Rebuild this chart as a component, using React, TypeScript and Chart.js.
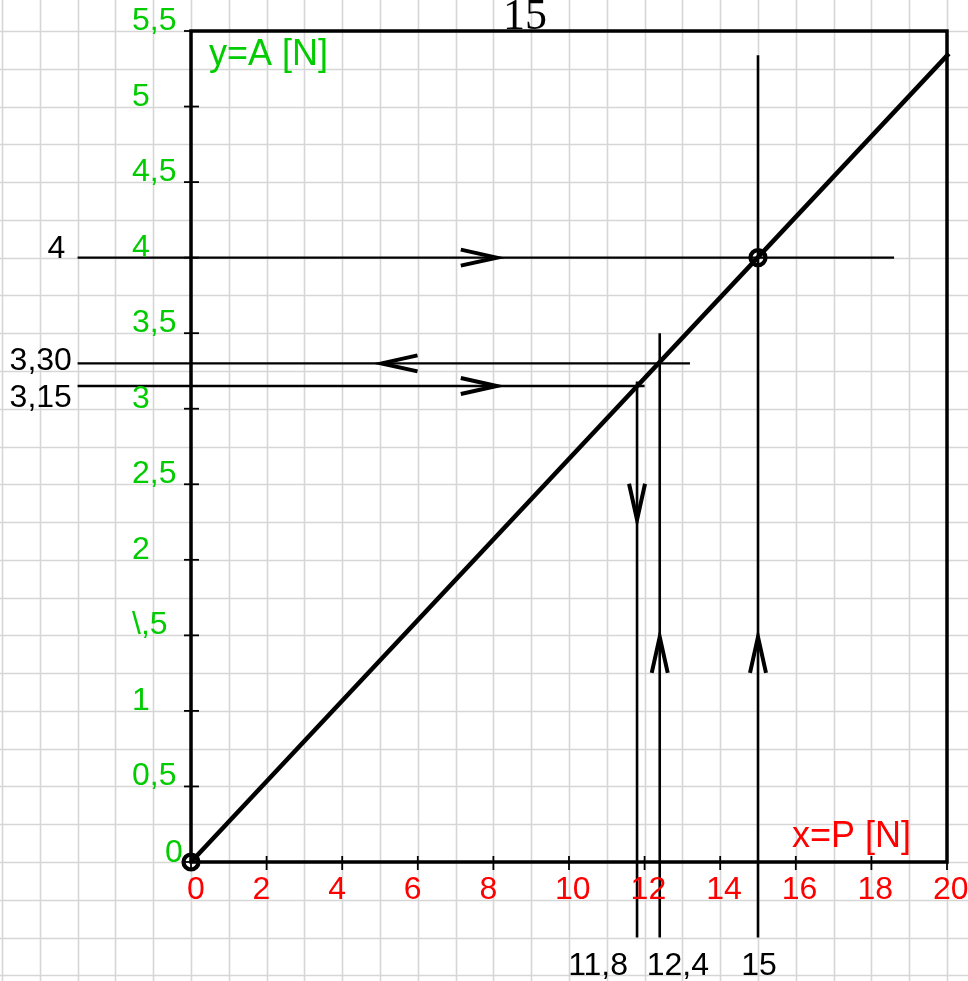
import React, { useEffect, useRef } from "react";
import { Chart, registerables } from "chart.js";

Chart.register(...registerables);

// ---- data ----
const titleText = "15";
const xAxisTitle = "x=P [N]";
const yAxisTitle = "y=A [N]";

const xTicks = [0, 2, 4, 6, 8, 10, 12, 14, 16, 18, 20];
const xTickLabels = ["0", "2", "4", "6", "8", "10", "12", "14", "16", "18", "20"];
const yTicks = [0, 0.5, 1, 1.5, 2, 2.5, 3, 3.5, 4, 4.5, 5, 5.5];
const yTickLabels = ["0", "0,5", "1", "\\,5", "2", "2,5", "3", "3,5", "4", "4,5", "5", "5,5"];

// characteristic line A = f(P)
const lineX = [0, 20.05];
const lineY = [0, 5.35];

// marked points
const markerX = [0, 15];
const markerY = [0, 4];

// horizontal reading lines
const hLevels = [4, 3.3, 3.15];
const hStart = [-3, -3, -3];
const hEnd = [18.6, 13.2, 12.0];

// vertical reading lines
const vLevels = [15, 12.4, 11.8];
const vTop = [5.34, 3.5, 3.18];
const vBottom = [-0.5, -0.5, -0.5];

// arrows (tip positions)
const arrowTipX = [8.09, 5.04, 8.09, 11.8, 12.4, 15];
const arrowTipY = [4, 3.3, 3.15, 2.265, 1.49, 1.49];
const arrowDir = ["right", "left", "right", "down", "up", "up"];

// annotation values
const annotLabels = ["4", "3,30", "3,15", "11,8", "12,4", "15"];

const SANS = '"Liberation Sans", Arial, sans-serif';

const paperPlugin = {
  id: "paper",
  beforeDatasetsDraw(chart: any) {
    const { ctx, scales, width, height } = chart;
    const xs = scales.x;
    const ys = scales.y;
    ctx.save();
    // grid paper
    ctx.strokeStyle = "#d6d6d6";
    ctx.lineWidth = 1.6;
    for (let v = -6; v <= 21; v += 1) {
      const px = Math.round(xs.getPixelForValue(v)) + 0.5;
      ctx.beginPath();
      ctx.moveTo(px, 0);
      ctx.lineTo(px, height);
      ctx.stroke();
    }
    for (let k = -3; k <= 23; k++) {
      const py = Math.round(ys.getPixelForValue(k * 0.25)) + 0.5;
      ctx.beginPath();
      ctx.moveTo(0, py);
      ctx.lineTo(width, py);
      ctx.stroke();
    }
    // frame / axes
    const x0 = xs.getPixelForValue(0);
    const x1 = xs.getPixelForValue(20);
    const y0 = ys.getPixelForValue(0);
    const y1 = ys.getPixelForValue(5.5);
    ctx.strokeStyle = "#000";
    ctx.lineWidth = 3.5;
    ctx.lineCap = "square";
    ctx.beginPath();
    ctx.moveTo(x0, y0);
    ctx.lineTo(x0, y1);
    ctx.lineTo(x1, y1);
    ctx.lineTo(x1, y0);
    ctx.lineTo(x0, y0);
    ctx.stroke();
    // ticks
    ctx.lineWidth = 1.8;
    ctx.lineCap = "butt";
    xTicks.forEach((v) => {
      const px = xs.getPixelForValue(v);
      ctx.beginPath();
      ctx.moveTo(px, y0 - 6);
      ctx.lineTo(px, y0 + 8);
      ctx.stroke();
    });
    yTicks.forEach((v) => {
      const py = ys.getPixelForValue(v);
      ctx.beginPath();
      ctx.moveTo(x0 - 7, py);
      ctx.lineTo(x0 + 8, py);
      ctx.stroke();
    });
    ctx.restore();
  },
  afterDatasetsDraw(chart: any) {
    const { ctx, scales } = chart;
    const xs = scales.x;
    const ys = scales.y;
    const x0 = xs.getPixelForValue(0);
    const y0 = ys.getPixelForValue(0);
    ctx.save();
    // arrows
    ctx.strokeStyle = "#000";
    ctx.lineWidth = 4;
    ctx.lineJoin = "miter";
    const L = 36;
    const W = 8;
    arrowTipX.forEach((tx, i) => {
      const px = xs.getPixelForValue(tx);
      const py = ys.getPixelForValue(arrowTipY[i]);
      const d = arrowDir[i];
      ctx.beginPath();
      if (d === "right") {
        ctx.moveTo(px - L, py - W);
        ctx.lineTo(px, py);
        ctx.lineTo(px - L, py + W);
      } else if (d === "left") {
        ctx.moveTo(px + L, py - W);
        ctx.lineTo(px, py);
        ctx.lineTo(px + L, py + W);
      } else if (d === "down") {
        ctx.moveTo(px - W, py - L);
        ctx.lineTo(px, py);
        ctx.lineTo(px + W, py - L);
      } else {
        ctx.moveTo(px - W, py + L);
        ctx.lineTo(px, py);
        ctx.lineTo(px + W, py + L);
      }
      ctx.stroke();
    });

    // marker circles
    ctx.lineWidth = 4.2;
    markerX.forEach((mx, i) => {
      ctx.beginPath();
      ctx.arc(xs.getPixelForValue(mx), ys.getPixelForValue(markerY[i]), 7.5, 0, Math.PI * 2);
      ctx.stroke();
    });

    // title
    ctx.fillStyle = "#000";
    ctx.font = '44px "Liberation Serif", "Times New Roman", serif';
    ctx.textAlign = "center";
    ctx.textBaseline = "alphabetic";
    ctx.fillText(titleText, 525, 29);

    // x tick labels (red)
    ctx.font = `32px ${SANS}`;
    ctx.fillStyle = "#ff0000";
    ctx.textAlign = "left";
    xTicks.forEach((v, i) => {
      const px = xs.getPixelForValue(v);
      const lx = i === 0 ? px - 4 : px - 14;
      ctx.fillText(xTickLabels[i], lx, y0 + 37);
    });
    // y tick labels (green)
    ctx.fillStyle = "#00cc00";
    yTicks.forEach((v, i) => {
      const py = ys.getPixelForValue(v);
      if (i === 0) ctx.fillText(yTickLabels[i], x0 - 26, py);
      else ctx.fillText(yTickLabels[i], x0 - 59, py - 1);
    });
    // axis titles
    ctx.font = `36px ${SANS}`;
    ctx.fillText(yAxisTitle, x0 + 18, ys.getPixelForValue(5.5) + 34);
    ctx.fillStyle = "#ff0000";
    ctx.fillText(xAxisTitle, xs.getPixelForValue(20) - 155, y0 - 15);

    // black annotation labels
    ctx.font = `32px ${SANS}`;
    ctx.fillStyle = "#000";
    const hl = xs.getPixelForValue(hStart[0]);
    const yb = ys.getPixelForValue(-0.75);
    ctx.textAlign = "left";
    ctx.fillText(annotLabels[0], hl - 30, ys.getPixelForValue(hLevels[0]));
    ctx.fillText(annotLabels[1], hl - 68, ys.getPixelForValue(hLevels[1]) + 7);
    ctx.fillText(annotLabels[2], hl - 68, ys.getPixelForValue(hLevels[2]) + 21);
    ctx.textAlign = "right";
    ctx.fillText(annotLabels[3], xs.getPixelForValue(vLevels[2]) - 9, yb);
    ctx.textAlign = "left";
    ctx.fillText(annotLabels[4], xs.getPixelForValue(vLevels[1]) - 13, yb);
    ctx.textAlign = "center";
    ctx.fillText(annotLabels[5], xs.getPixelForValue(vLevels[0]) + 1, yb);
    ctx.restore();
  },
};

export default function App() {
  const ref = useRef<HTMLCanvasElement | null>(null);
  useEffect(() => {
    document.body.style.margin = "0";
    if (!ref.current) return;
    const lineDs = (pts: { x: number; y: number }[], w: number) => ({
      data: pts,
      showLine: true,
      borderColor: "#000",
      borderWidth: w,
      pointRadius: 0,
      clip: false as any,
      order: 2,
    });
    const datasets: any[] = [
      {
        data: markerX.map((x, i) => ({ x, y: markerY[i] })),
        showLine: false,
        pointRadius: 0,
        clip: false,
        order: 0,
      },
      { ...lineDs(lineX.map((x, i) => ({ x, y: lineY[i] })), 4.5), order: 1 },
      ...hLevels.map((lv, i) =>
        lineDs([{ x: hStart[i], y: lv }, { x: hEnd[i], y: lv }], 2.4)
      ),
      ...vLevels.map((lv, i) =>
        lineDs([{ x: lv, y: vTop[i] }, { x: lv, y: vBottom[i] }], 2.6)
      ),
    ];
    const chart = new Chart(ref.current, {
      type: "scatter",
      data: { datasets },
      options: {
        animation: false,
        responsive: true,
        maintainAspectRatio: false,
        events: [],
        layout: { padding: { left: 191, right: 21, top: 31, bottom: 119 } },
        scales: {
          x: { type: "linear", min: 0, max: 20, display: false },
          y: { type: "linear", min: 0, max: 5.5, display: false },
        },
        plugins: { legend: { display: false }, tooltip: { enabled: false } },
      },
      plugins: [paperPlugin],
    });
    return () => chart.destroy();
  }, []);
  return (
    <div style={{ position: "absolute", left: 0, top: 0, width: 968, height: 981, background: "#fff" }}>
      <canvas ref={ref} />
    </div>
  );
}
